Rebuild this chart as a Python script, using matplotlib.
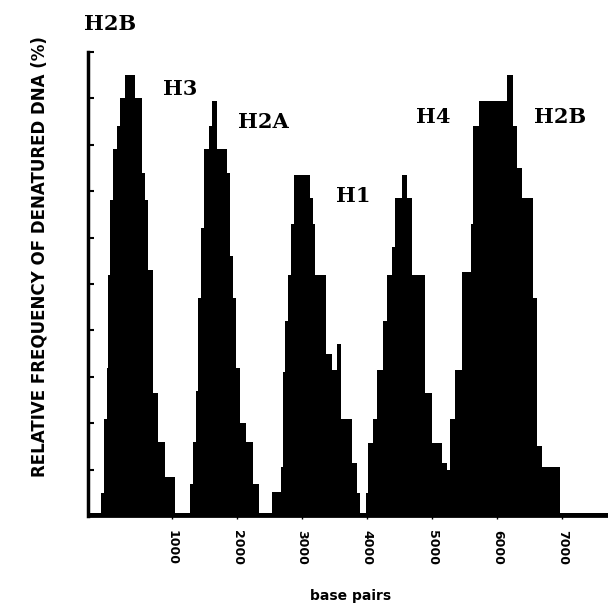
import matplotlib
matplotlib.use("Agg")
import matplotlib.pyplot as plt

# bin edges (base pairs) and relative frequency (%) of denatured DNA
bin_edges = [-290, -90, -45, 0, 20, 50, 90, 160, 200, 280, 430, 540, 590, 630, 710, 780, 890, 1050,
             1280, 1320, 1370, 1400, 1450, 1490, 1570, 1610, 1690, 1840, 1890, 1940, 1980, 2040, 2140, 2240, 2340,
             2540, 2670, 2700, 2740, 2780, 2830, 2870, 3120, 3170, 3200, 3370, 3460, 3530, 3600, 3760, 3840, 3890,
             3980, 4010, 4090, 4150, 4240, 4300, 4380, 4430, 4530, 4610, 4690, 4890, 4990, 5150, 5220,
             5270, 5350, 5450, 5590, 5620, 5720, 6150, 6240, 6300, 6380, 6540, 6610, 6680, 6960, 7700]
freq = [0.06, 0.5, 2.1, 3.2, 5.2, 6.8, 7.9, 8.4, 9.0, 9.5, 9.0, 7.4, 6.8, 5.3, 2.65, 1.6, 0.85,
        0.06, 0.7, 1.6, 2.7, 4.7, 6.2, 7.9, 8.4, 8.95, 7.9, 7.4, 5.6, 4.7, 3.2, 2.0, 1.6, 0.7,
        0.06, 0.52, 1.05, 3.1, 4.2, 5.2, 6.3, 7.35, 6.85, 6.3, 5.2, 3.5, 3.15, 3.7, 2.1, 1.15, 0.5,
        0.06, 0.5, 1.57, 2.1, 3.15, 4.2, 5.2, 5.8, 6.85, 7.35, 6.85, 5.2, 2.65, 1.57, 1.15,
        1.0, 2.1, 3.15, 5.25, 6.3, 8.4, 8.95, 9.5, 8.4, 7.5, 6.85, 4.7, 1.5, 1.05, 0.06]

xticks = [1000, 2000, 3000, 4000, 5000, 6000, 7000]

# histone gene labels: (name, bp position, height)
gene_names = ["H2B", "H3", "H2A", "H1", "H4", "H2B"]
gene_x = [50, 1130, 2400, 3780, 5010, 6960]
gene_y = [10.6, 9.2, 8.5, 6.9, 8.6, 8.6]

fig = plt.figure(figsize=(6.08, 6.09), dpi=100)
ax = fig.add_axes([88/608, 1 - 516/609, 1 - 88/608, (516 - 52)/609])

ax.stairs(freq, bin_edges, fill=True, color="black", baseline=0)

ax.set_xlim(-290, 7700)
ax.set_ylim(0, 10)
ax.set_xticks(xticks)
ax.set_xticklabels([str(t) for t in xticks], rotation=270, fontsize=9, fontweight="bold")
ax.set_yticks(range(0, 11))
ax.set_yticklabels([])
ax.tick_params(axis="y", direction="in", length=4, width=1.5)
ax.tick_params(axis="x", direction="out", length=2, width=1, pad=8)

for s in ["top", "right"]:
    ax.spines[s].set_visible(False)
ax.spines["left"].set_linewidth(2.5)
ax.spines["bottom"].set_linewidth(2)

for name, gx, gy in zip(gene_names, gene_x, gene_y):
    ax.text(gx, gy, name, fontsize=15, fontweight="bold", family="DejaVu Serif",
            ha="center", va="center", clip_on=False)

fig.text(40/608, 1 - 257/609, "RELATIVE FREQUENCY OF DENATURED DNA (%)",
         rotation=90, ha="center", va="center", fontsize=12, fontweight="bold")
fig.text(351/608, 1 - 596/609, "base pairs", ha="center", va="center",
         fontsize=10, fontweight="bold")

fig.savefig("out.png", dpi=100)
